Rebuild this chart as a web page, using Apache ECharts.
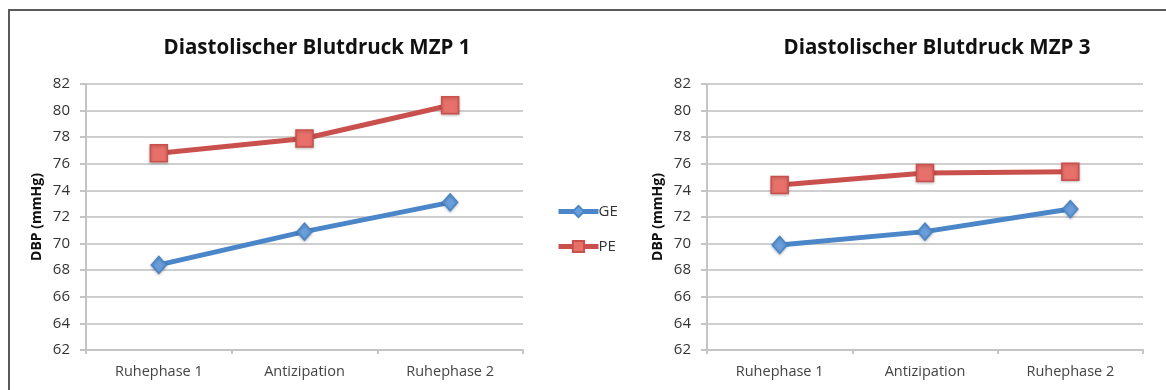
<!DOCTYPE html>
<html><head><meta charset="utf-8">
<script src="https://cdn.jsdelivr.net/npm/echarts@6/dist/echarts.min.js"></script>
<style>html,body{margin:0;padding:0;background:#fff}#c{width:1166px;height:390px}</style>
</head><body><div id="c"></div>
<script>
var categories = ['Ruhephase 1', 'Antizipation', 'Ruhephase 2'];
var yTicks = [62, 64, 66, 68, 70, 72, 74, 76, 78, 80, 82];
var titles = ['Diastolischer Blutdruck MZP 1', 'Diastolischer Blutdruck MZP 3'];
var yName = 'DBP (mmHg)';
var seriesNames = ['GE', 'PE'];
var mzp1GE = [68.4, 70.9, 73.1];
var mzp1PE = [76.8, 77.9, 80.4];
var mzp3GE = [69.9, 70.9, 72.6];
var mzp3PE = [74.4, 75.3, 75.4];

var FONT = '"Open Sans", sans-serif';
var BLUE = '#4a86c8', BLUE_M = '#6a9fdc';
var RED = '#c9504c', RED_M = '#e8706a';

function xAxis(i) {
  return {
    type: 'category', gridIndex: i, data: categories, boundaryGap: true,
    axisLine: { lineStyle: { color: '#c4c4c4', width: 2 } },
    axisTick: { show: true, length: 4, lineStyle: { color: '#c4c4c4', width: 2 } },
    axisLabel: { color: '#444', fontFamily: FONT, fontSize: 14.5, margin: 14 }
  };
}
function yAxis(i) {
  return {
    type: 'value', gridIndex: i, min: yTicks[0], max: yTicks[yTicks.length - 1], interval: 2,
    name: yName, nameLocation: 'middle', nameGap: 42, nameRotate: 90,
    nameTextStyle: { color: '#111', fontFamily: FONT, fontWeight: 'bold', fontSize: 14 },
    axisLine: { show: true, lineStyle: { color: '#c4c4c4', width: 2 } },
    axisTick: { show: true, length: 6, lineStyle: { color: '#c4c4c4', width: 2 } },
    splitLine: { lineStyle: { color: '#cfcfcf', width: 2 } },
    axisLabel: { color: '#333', fontFamily: FONT, fontSize: 15, margin: 16 }
  };
}
function line(name, data, i) {
  var isGE = name === 'GE';
  return {
    name: name, type: 'line', xAxisIndex: i, yAxisIndex: i, data: data,
    symbol: isGE ? 'diamond' : 'rect', symbolSize: isGE ? [15, 17] : 17,
    lineStyle: { color: isGE ? BLUE : RED, width: 5 },
    itemStyle: { color: isGE ? BLUE_M : RED_M, borderColor: isGE ? BLUE : RED, borderWidth: 1.5,
      shadowColor: 'rgba(0,0,0,0.25)', shadowBlur: 3, shadowOffsetY: 1 },
    emphasis: { disabled: true }, animation: false
  };
}

var chart = echarts.init(document.getElementById('c'));
chart.setOption({
  animation: false,
  title: [
    { text: titles[0], left: 312, top: 33, textAlign: 'center',
      textStyle: { fontFamily: FONT, fontWeight: 'bold', fontSize: 20.5, color: '#111' } },
    { text: titles[1], left: 932, top: 33, textAlign: 'center',
      textStyle: { fontFamily: FONT, fontWeight: 'bold', fontSize: 20.5, color: '#111' } }
  ],
  legend: {
    data: seriesNames, orient: 'vertical', left: 551, top: 199, itemGap: 20,
    itemWidth: 40, itemHeight: 14,
    lineStyle: { width: 5 },
    textStyle: { fontFamily: FONT, fontSize: 15, color: '#333', padding: [0, 0, 0, -5] }
  },
  grid: [
    { left: 86, right: 643, top: 84, bottom: 40 },
    { left: 707, right: 23, top: 84, bottom: 40 }
  ],
  xAxis: [xAxis(0), xAxis(1)],
  yAxis: [yAxis(0), yAxis(1)],
  series: [
    line('GE', mzp1GE, 0), line('PE', mzp1PE, 0),
    line('GE', mzp3GE, 1), line('PE', mzp3PE, 1)
  ],
  graphic: [{
    type: 'rect', shape: { x: 9, y: 10, width: 1200, height: 420 },
    style: { fill: 'none', stroke: '#5a5a5a', lineWidth: 2 }, silent: true
  }]
});
</script></body></html>
